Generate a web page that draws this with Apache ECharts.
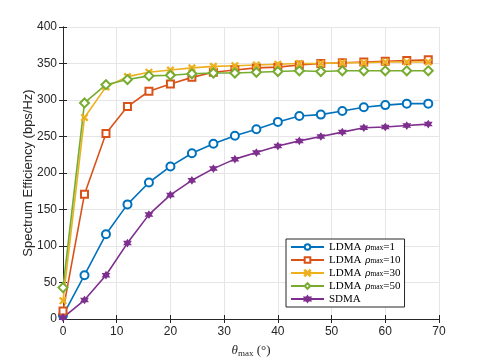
<!DOCTYPE html>
<html>
<head>
<meta charset="utf-8">
<script src="https://cdn.jsdelivr.net/npm/echarts@6/dist/echarts.min.js"></script>
<style>
  html, body { margin: 0; padding: 0; background: #fff; }
  #chart { width: 485px; height: 363px; }
</style>
</head>
<body>
<div id="chart"></div>
<script>
// theta_max (deg)
const thetaDeg = [0, 4, 8, 12, 16, 20, 24, 28, 32, 36, 40, 44, 48, 52, 56, 60, 64, 68]
// spectrum efficiency (bps/Hz)
const seRho1 = [5, 60, 116, 157, 187, 209, 227, 240, 251, 260, 270, 278, 280, 285, 290, 293, 295, 295]
const seRho10 = [11, 171, 254, 291, 312, 322, 331, 338, 341, 344, 345, 348, 350, 351, 352, 353, 354, 355]
const seRho30 = [25, 276, 318, 332, 338, 341, 344, 346, 347, 348, 349, 350, 350, 351, 351, 352, 352, 352]
const seRho50 = [43, 296, 321, 328, 333, 334, 336, 337, 337, 338, 339, 340, 339, 340, 340, 340, 340, 340]
const seSdma = [2, 26, 60, 104, 143, 170, 190, 206, 219, 228, 237, 244, 250, 256, 262, 263, 265, 267]

const seriesNames = ['LDMA ρmax=1', 'LDMA ρmax=10', 'LDMA ρmax=30', 'LDMA ρmax=50', 'SDMA']
const colors = ['#0072BD', '#D95319', '#EDB120', '#77AC30', '#7E2F8E']

const xMark = 'path://M0,1L1,0L5,4L9,0L10,1L6,5L10,9L9,10L5,6L1,10L0,9L4,5Z'
const hexagram = 'path://M10,0L12.89,5L18.66,5L15.77,10L18.66,15L12.89,15L10,20L7.11,15L1.34,15L4.23,10L1.34,5L7.11,5Z'

const pairs = ys => thetaDeg.map((x, i) => [x, ys[i]])

const chart = echarts.init(document.getElementById('chart'))

function makeSeries(i, ys, symbol, size) {
  return {
    name: seriesNames[i],
    type: 'line',
    data: pairs(ys),
    symbol: symbol,
    symbolSize: size,
    showAllSymbol: true,
    lineStyle: { color: colors[i], width: 1.6 },
    itemStyle: { color: colors[i], borderColor: colors[i], borderWidth: 1.5 },
    emphasis: { disabled: true }
  }
}

const tickStyle = { color: '#262626', fontFamily: 'Liberation Sans', fontSize: 12 }
const axisLine = { show: true, lineStyle: { color: '#262626', width: 1 } }
const axisTick = { show: true, inside: true, length: 4, lineStyle: { color: '#262626' } }

chart.setOption({
  backgroundColor: '#fff',
  animation: false,
  grid: { left: 63, right: 46, top: 27, bottom: 40 },
  legend: {
    orient: 'vertical',
    left: 286,
    top: 239,
    padding: [2, 4, 2, 4],
    itemGap: 1,
    itemWidth: 33,
    itemHeight: 7,
    backgroundColor: '#fff',
    borderColor: '#262626',
    borderWidth: 1,
    borderRadius: 0,
    data: seriesNames,
    formatter: function (name) {
      if (name === 'SDMA') return '{n|SDMA}'
      const v = name.split('=')[1]
      return '{n|LDMA }{r|ρ}{s|max}{n|=' + v + '}'
    },
    textStyle: {
      color: '#000',
      fontFamily: 'Liberation Serif',
      fontSize: 11,
      lineHeight: 12,
      rich: {
        n: { fontFamily: 'Liberation Serif', fontSize: 11, color: '#000', lineHeight: 12 },
        r: { fontFamily: 'Liberation Serif', fontStyle: 'italic', fontSize: 11, color: '#000', padding: [0, 0, 0, 1], lineHeight: 12 },
        s: { fontFamily: 'Liberation Serif', fontSize: 7.5, color: '#000', padding: [3, 0, 0, 0], lineHeight: 12 }
      }
    }
  },
  xAxis: [
    {
      type: 'value',
      min: 0,
      max: 70,
      interval: 10,
      position: 'bottom',
      axisLine: axisLine,
      axisTick: axisTick,
      axisLabel: Object.assign({ margin: 7 }, tickStyle),
      splitLine: { show: true, lineStyle: { color: '#e6e6e6', width: 1 } },
      name: '{t|θ}{s|max}{n| (°)}',
      nameLocation: 'middle',
      nameGap: 24,
      nameTextStyle: {
        rich: {
          t: { fontFamily: 'Liberation Serif', fontStyle: 'italic', fontSize: 13, color: '#262626' },
          s: { fontFamily: 'Liberation Serif', fontSize: 9, color: '#262626', padding: [6, 0, 0, 0] },
          n: { fontFamily: 'Liberation Serif', fontSize: 13, color: '#262626' }
        }
      }
    },
    {
      type: 'value',
      min: 0,
      max: 70,
      interval: 10,
      position: 'top',
      axisLine: axisLine,
      axisTick: axisTick,
      axisLabel: { show: false },
      splitLine: { show: false }
    }
  ],
  yAxis: [
    {
      type: 'value',
      min: 0,
      max: 400,
      interval: 50,
      position: 'left',
      axisLine: axisLine,
      axisTick: axisTick,
      axisLabel: Object.assign({ margin: 6 }, tickStyle),
      splitLine: { show: true, lineStyle: { color: '#e6e6e6', width: 1 } },
      name: 'Spectrum Efficiency (bps/Hz)',
      nameLocation: 'middle',
      nameGap: 28,
      nameMoveOverlap: false,
      nameTextStyle: { color: '#262626', fontFamily: 'Liberation Sans', fontSize: 13 }
    },
    {
      type: 'value',
      min: 0,
      max: 400,
      interval: 50,
      position: 'right',
      axisLine: axisLine,
      axisTick: axisTick,
      axisLabel: { show: false },
      splitLine: { show: false }
    }
  ],
  series: [
    makeSeries(0, seRho1, 'emptyCircle', 8),
    makeSeries(1, seRho10, 'emptyRect', 7),
    makeSeries(2, seRho30, xMark, 6),
    makeSeries(3, seRho50, 'emptyDiamond', 9),
    makeSeries(4, seSdma, hexagram, 6)
  ]
})

window.addEventListener('resize', () => {
  chart.resize()
})
</script>
</body>
</html>
